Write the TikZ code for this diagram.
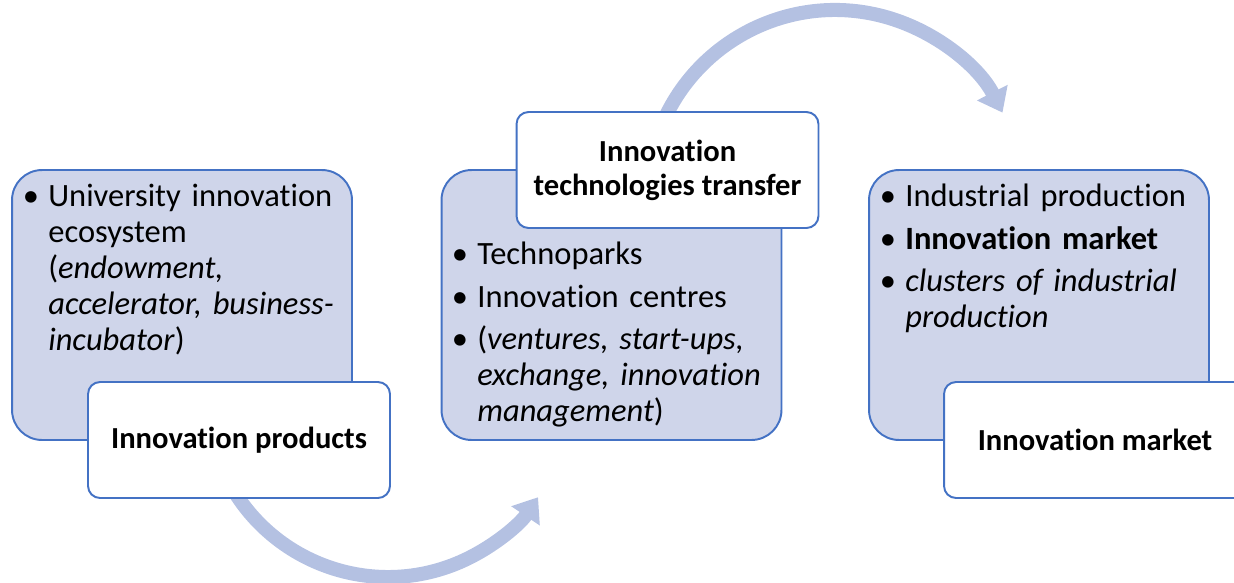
\documentclass[tikz,border=0pt]{standalone}
\usepackage{fontspec}
\setmainfont{Carlito}[Ligatures=NoCommon]
\definecolor{boxblue}{HTML}{4472C4}
\definecolor{boxfill}{HTML}{CFD5EA}
\definecolor{arcblue}{HTML}{B4C1E2}
\usetikzlibrary{arrows.meta}
\hyphenpenalty=10000
\newcommand{\bul}[1]{\hangindent=0.36cm\hangafter=1\noindent\makebox[0.36cm][l]{\hspace{-0.15cm}\textbullet}#1\par}

\begin{document}
\begin{tikzpicture}[x=0.02cm, y=-0.02cm,
	every node/.append style={font=\fontsize{18.5}{20.5}\selectfont},
	bluebox/.style={draw=boxblue, line width=1.1pt, fill=boxfill, rounded corners=0.6cm,
		minimum width=6.8cm, minimum height=5.4cm},
	whitebox/.style={draw=boxblue, line width=1.1pt, fill=white, rounded corners=0.24cm,
		minimum width=6.04cm, minimum height=2.32cm, font=\fontsize{17.4}{19.5}\selectfont\bfseries,
		align=center},
	itemlist/.style={anchor=north west, inner sep=0pt, text width=6.3cm, align=left,
		font=\fontsize{18.5}{20.5}\selectfont\setlength{\parskip}{3.5pt}},
	bigarc/.style={draw=arcblue, line width=8pt, -{Triangle[width=0.66cm,length=0.45cm]}}]

	\useasboundingbox (0, 0) rectangle (1234, 582);

	\node[bluebox] at (182, 305) (PB){};
	\node[bluebox] at (611.5, 305) (TB){};
	\node[bluebox] at (1039, 305) (MB){};

	% arcs between the stages
	\draw[bigarc] (388, 396) ++(155:181) arc (155:34:181);
	\draw[bigarc] (835, 198) ++(198:188) arc (198:333:188);

	\node[whitebox] at (239, 440) (P){Innovation products};
	\node[whitebox] at (667.5, 170) (T){Innovation\\technologies transfer};
	\node[whitebox] at (1095, 440) (M){Innovation market};

	\node[itemlist] at (30, 184) (PL){%
		\bul{University innovation ecosystem (\textit{endowment, accelerator, business-incubator})}};
	\node[itemlist] at (459, 242) (TL){%
		\bul{Technoparks}
		\bul{Innovation centres}
		\bul{(\textit{ventures, start-ups, exchange, innovation management})}};
	\node[itemlist] at (887, 184) (ML){%
		\bul{Industrial production}
		\bul{\textbf{Innovation market}}
		\bul{\textit{clusters of industrial production}}};
\end{tikzpicture}
\end{document}
